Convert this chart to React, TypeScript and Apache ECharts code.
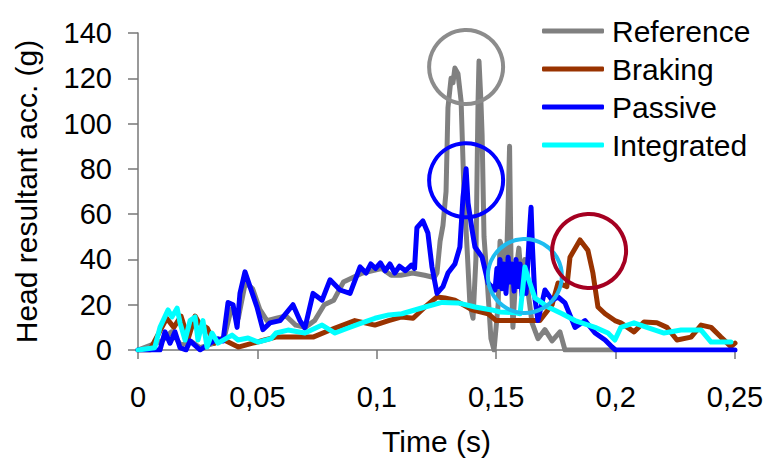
import React, { useEffect, useRef } from "react";
import * as echarts from "echarts";

const seriesNames = ["Reference", "Braking", "Passive", "Integrated"];
const xTicks = [0, 0.05, 0.1, 0.15, 0.2, 0.25];

const reference: [number, number][] = [
  [0, 0], [0.01, 4], [0.014, 8], [0.018, 2], [0.022, 4], [0.026, 1], [0.032, 3], [0.036, 5],
  [0.039, 18], [0.042, 14], [0.045, 30], [0.048, 27], [0.051, 18], [0.054, 13], [0.058, 14],
  [0.062, 15], [0.066, 11], [0.07, 10], [0.074, 13], [0.078, 20], [0.082, 22], [0.086, 30],
  [0.09, 32], [0.094, 34], [0.098, 35], [0.102, 36], [0.106, 33], [0.11, 33], [0.115, 34],
  [0.12, 33], [0.124, 32], [0.1252, 34], [0.1265, 48], [0.1277, 55], [0.129, 70], [0.1298, 107],
  [0.1311, 120], [0.1319, 118], [0.1327, 124.5], [0.134, 122], [0.1353, 110], [0.1365, 70],
  [0.1378, 45], [0.139, 20], [0.1403, 14], [0.1415, 40], [0.1424, 110], [0.1428, 127.6],
  [0.1436, 110], [0.1441, 95], [0.1449, 50], [0.1464, 28], [0.1478, 5], [0.1491, 0],
  [0.1508, 20], [0.1516, 48], [0.1528, 44], [0.1541, 30], [0.1549, 60], [0.1556, 90],
  [0.1562, 40], [0.157, 10], [0.1583, 35], [0.1595, 45], [0.1608, 28], [0.162, 40],
  [0.1633, 26], [0.165, 12], [0.1675, 5], [0.1704, 9], [0.1734, 4], [0.1767, 8], [0.1788, 0],
  [0.2, 0],
];

const braking: [number, number][] = [
  [0, 0], [0.005, 0], [0.009, 8], [0.012, 14], [0.015, 10], [0.018, 15], [0.021, 5],
  [0.0239, 15], [0.0255, 12], [0.029, 9.7], [0.032, 3], [0.035, 5], [0.042, 1.3], [0.048, 3],
  [0.053, 4.4], [0.0577, 5.7], [0.0733, 5.7], [0.0825, 9.7], [0.0908, 13], [0.0992, 11],
  [0.105, 13], [0.1105, 14.6], [0.1152, 14], [0.1202, 19], [0.1252, 23.4], [0.1285, 23],
  [0.1327, 22], [0.1399, 17.7], [0.1466, 16], [0.15, 13], [0.16, 13], [0.1683, 13],
  [0.1734, 20], [0.1759, 29.6], [0.1796, 28], [0.1809, 41], [0.1851, 48.6], [0.1884, 44],
  [0.1905, 34], [0.1926, 19], [0.1956, 16], [0.1997, 13], [0.2022, 12], [0.2077, 8],
  [0.2119, 12.4], [0.2173, 12], [0.2215, 10], [0.2257, 4.4], [0.2316, 5.7], [0.2358, 11],
  [0.24, 10], [0.2441, 5.7], [0.2483, 1.5], [0.25, 3],
];

const passive: [number, number][] = [
  [0, 0], [0.0092, 0], [0.0113, 8], [0.0134, 3], [0.0155, 8], [0.0176, 1], [0.0201, 0],
  [0.0218, 4], [0.0239, 2], [0.026, 0], [0.0302, 3], [0.0335, 5], [0.0356, 4], [0.0377, 21],
  [0.0398, 20], [0.0415, 10], [0.0427, 25], [0.0448, 34.5], [0.0469, 28], [0.0498, 19],
  [0.0523, 9], [0.0553, 12], [0.0595, 13], [0.0649, 20], [0.0678, 13], [0.0699, 9.7],
  [0.0733, 25], [0.0771, 22], [0.0804, 31], [0.0846, 26.5], [0.0888, 25], [0.093, 36.7],
  [0.0955, 34], [0.0975, 38], [0.0995, 36], [0.1015, 38.5], [0.1035, 35], [0.1055, 38],
  [0.1075, 34], [0.1095, 37], [0.112, 35], [0.1145, 37.5], [0.1158, 36], [0.1168, 54],
  [0.1193, 57], [0.1214, 51.7], [0.1231, 36.7], [0.1252, 25], [0.1277, 28], [0.1298, 34],
  [0.1327, 38], [0.1348, 45.5], [0.1361, 67.6], [0.1374, 80], [0.1382, 65], [0.1399, 53],
  [0.1411, 45.5], [0.1441, 41], [0.1466, 29.6], [0.1495, 26.5], [0.1503, 36], [0.151, 28],
  [0.1516, 40], [0.1524, 27], [0.1532, 38], [0.1541, 25], [0.155, 41], [0.1558, 30],
  [0.1566, 38], [0.1575, 26], [0.1583, 40], [0.1591, 28], [0.16, 38], [0.1608, 24],
  [0.1616, 36], [0.1625, 25], [0.1633, 40], [0.1641, 55], [0.1646, 63], [0.1652, 45],
  [0.1662, 23], [0.1675, 13], [0.1704, 26.5], [0.1734, 22], [0.1759, 23.4],
  [0.1788, 20.8], [0.183, 10], [0.1872, 13], [0.1914, 7.5], [0.1956, 4.4], [0.1985, 1.3],
  [0.2, 0], [0.25, 0],
];

const integrated: [number, number][] = [
  [0, 0], [0.007, 1], [0.0092, 10], [0.0126, 17.7], [0.0142, 14.6], [0.0164, 18.5],
  [0.0176, 12], [0.0197, 4.4], [0.0218, 13], [0.0239, 14.6], [0.0251, 4.4], [0.0272, 13],
  [0.0289, 1.3], [0.031, 7.5], [0.0335, 3], [0.0394, 6.6], [0.0419, 4.4], [0.0461, 5.3],
  [0.0503, 3.5], [0.0557, 5], [0.0578, 7.5], [0.0628, 8.8], [0.0699, 7.5], [0.0771, 11],
  [0.0825, 7.5], [0.088, 9.7], [0.0938, 12], [0.0992, 14], [0.105, 15.5], [0.1105, 16],
  [0.1202, 19], [0.1273, 21], [0.134, 20.8], [0.1411, 19], [0.1482, 17.7], [0.1516, 16.8],
  [0.1579, 16.5], [0.16, 16], [0.1612, 28], [0.162, 36.7], [0.1633, 32], [0.1662, 23],
  [0.1717, 19], [0.1776, 16], [0.183, 13], [0.1914, 10], [0.1968, 7.5], [0.1997, 4.4],
  [0.2022, 10], [0.2077, 12], [0.2131, 10], [0.2203, 7.5], [0.2274, 8.8], [0.2358, 8.8],
  [0.24, 3.5], [0.2483, 3.5],
];

// annotation circles: [t, g] centres
const circleCentres: [number, number][] = [
  [0.1374, 125], [0.1374, 75], [0.162, 32.7], [0.1889, 43.7],
];
const circleColors = ["#8c8c8c", "#0000ff", "#1ebcf0", "#a50021"];
const seriesColors = ["#808080", "#993300", "#0000ff", "#00ffff"];

export default function App() {
  const ref = useRef<HTMLDivElement>(null);
  useEffect(() => {
    if (!ref.current) return;
    const chart = echarts.init(ref.current, undefined, { renderer: "svg" });
    const font = "Liberation Sans, Arial, sans-serif";
    const data = [reference, braking, passive, integrated];
    chart.setOption({
      animation: false,
      textStyle: { fontFamily: font },
      grid: { left: 138, right: 30, top: 33, bottom: 108, containLabel: false, outerBoundsMode: "none" },
      legend: {
        orient: "vertical",
        left: 537,
        top: 11,
        icon: "roundRect",
        itemWidth: 62,
        itemHeight: 5,
        itemGap: 8,
        data: seriesNames,
        textStyle: { fontSize: 30, lineHeight: 30, color: "#000", fontFamily: font, padding: [0, 0, 0, 3] },
      },
      xAxis: {
        type: "value",
        min: 0,
        max: 0.25,
        interval: 0.05,
        name: "Time (s)",
        nameLocation: "middle",
        nameGap: 76,
        nameTextStyle: { fontSize: 30, color: "#000", fontFamily: font },
        axisLine: { lineStyle: { color: "#777", width: 1.5 } },
        axisTick: { show: true, length: 9, lineStyle: { color: "#777", width: 1.5 } },
        axisLabel: {
          fontSize: 29,
          color: "#000",
          margin: 32,
          formatter: (v: number) => {
            const m = xTicks.find((t) => Math.abs(t - v) < 1e-9);
            return String(m !== undefined ? m : v).replace(".", ",");
          },
        },
        splitLine: { show: false },
      },
      yAxis: {
        type: "value",
        min: 0,
        max: 140,
        interval: 20,
        name: "Head resultant acc. (g)",
        nameLocation: "middle",
        nameGap: 97,
        nameTextStyle: { fontSize: 30, color: "#000", fontFamily: font },
        axisLine: { show: true, lineStyle: { color: "#777", width: 1.5 } },
        axisTick: { show: true, length: 10, lineStyle: { color: "#777", width: 1.5 } },
        axisLabel: { fontSize: 29, color: "#000", margin: 26 },
        splitLine: { show: false },
      },
      series: seriesNames.map((name, i) => ({
        name,
        type: "line",
        data: data[i],
        showSymbol: false,
        symbol: "none",
        color: seriesColors[i],
        lineStyle: { color: seriesColors[i], width: 5, join: "round", cap: "round" },
        z: 2 + i,
      })),
    });
    const graphics = circleCentres.map((c, i) => {
      const p = chart.convertToPixel({ gridIndex: 0 }, c) as number[];
      return {
        type: "circle",
        shape: { cx: p[0], cy: p[1], r: 37 },
        style: { fill: "none", stroke: circleColors[i], lineWidth: 4 },
        z: 100,
      };
    });
    chart.setOption({ graphic: graphics });
    return () => chart.dispose();
  }, []);
  return (
    <div
      ref={ref}
      style={{ position: "absolute", left: 0, top: 0, width: 765, height: 458 }}
    />
  );
}
